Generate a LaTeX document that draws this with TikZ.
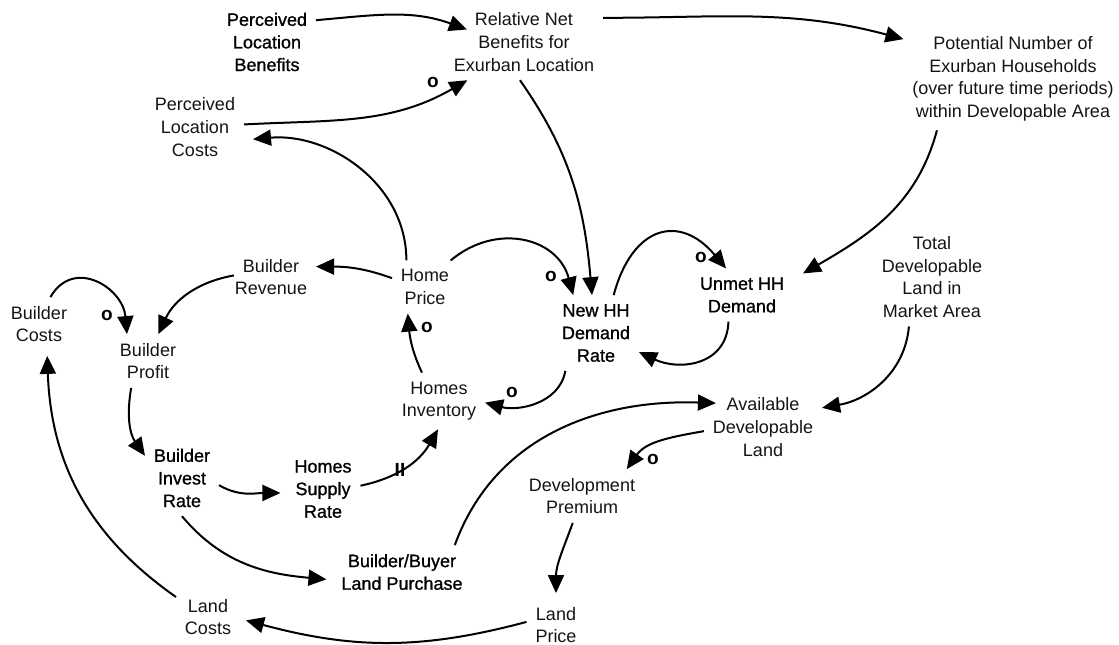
\documentclass[tikz,border=0pt]{standalone}
\usepackage{fontspec}
\setmainfont{Liberation Sans}
\newfontfamily\keyfont{Liberation Sans}[FakeBold=1]
\usetikzlibrary{arrows.meta}

\tikzset{
  var/.style={align=center, inner sep=2pt, outer sep=7pt, text=black!92, font=\fontsize{18}{22.6}\selectfont},
  keyvar/.style={var, text=black, font=\keyfont\fontsize{18}{22.6}\selectfont},
  link/.style={-{Triangle[length=18pt,width=16pt]}, line width=2pt},
  sign/.style={font=\bfseries\fontsize{19}{19}\selectfont, inner sep=0pt}
}

\begin{document}
\begin{tikzpicture}[x=1pt, y=-1pt]
    \useasboundingbox (0,0) rectangle (1119,645);

    % Location demand
    \node[keyvar] (plb) at (267,42) {Perceived\\Location\\Benefits};
    \node[var] (rnb) at (524,42) {Relative Net\\Benefits for\\Exurban Location};
    \node[var] (pot) at (1013,79) {Potential Number of\\Exurban Households\\(over future time periods)\\within Developable Area};
    \node[var] (plc) at (195,127) {Perceived\\Location\\Costs};
    \node[keyvar] (nhh) at (596,333) {New HH\\Demand\\Rate};
    \node[keyvar] (umd) at (742,295) {Unmet HH\\Demand};

    % Builders and homes
    \node[var] (brev) at (271,277) {Builder\\Revenue};
    \node[var] (hp) at (425,287) {Home\\Price};
    \node[var] (bc) at (39,324) {Builder\\Costs};
    \node[var] (bp) at (148,361) {Builder\\Profit};
    \node[var] (hi) at (439,401) {Homes\\Inventory};
    \node[keyvar] (bir) at (182,478) {Builder\\Invest\\Rate};
    \node[keyvar] (hsr) at (323,489) {Homes\\Supply\\Rate};

    % Land
    \node[var] (tdl) at (932,277) {Total\\Developable\\Land in\\Market Area};
    \node[var] (adl) at (763,427) {Available\\Developable\\Land};
    \node[var] (dp) at (582,496) {Development\\Premium};
    \node[keyvar] (blp) at (402,572) {Builder/Buyer\\Land Purchase};
    \node[var] (lc) at (208,617) {Land\\Costs};
    \node[var] (lp) at (556,625) {Land\\Price};

    % Links
    \draw[link] (plb.24) to[out=5, in=160] ([xshift=22pt]rnb.171);
    \draw[link] (plc.3) to[out=3, in=210] (rnb.214);
    \draw[link] (rnb.17) to[out=0, in=165] (pot.160);
    \draw[link] (rnb.264) to[out=-55, in=95] (nhh.96);
    \draw[link] (hp.125) to[out=90, in=5] ([xshift=9pt]plc.-14);
    \draw[link] (hp.165) to[out=160, in=0] (brev.13);
    \draw[link] ([xshift=8pt]brev.178) to[out=190, in=65] (bp.69);
    \draw[link] (bc.67) to[out=60, in=95, looseness=1.4] (bp.128);
    \draw[link] (hp.46) to[out=40, in=105, looseness=1.2] (nhh.121);
    \draw[link] (nhh.65) to[out=75, in=130, looseness=1.6] (umd.121);
    \draw[link] (umd.243) to[out=-92, in=-25, looseness=1.2] (nhh.-24);
    \draw[link] (pot.214) to[out=-105, in=30] ([xshift=10pt,yshift=3pt]umd.20);
    \draw[link] (hi.121) to[out=115, in=-85] (hp.237);
    \draw[link] (nhh.231) to[out=-100, in=-15] (hi.-2);
    \draw[link] (bp.238) to[out=-100, in=125] (bir.149);
    \draw[link] (bir.-11) to[out=-30, in=180] ([xshift=-5pt]hsr.186);
    \draw[link] (hsr.5) to[out=12, in=-120] (hi.268);
    \draw[link] (bir.270) to[out=-50, in=175] ([xshift=-6pt]blp.186);
    \draw[link] (blp.27) to[out=70, in=178] ([xshift=12pt]adl.158);
    \draw[link] (tdl.245) to[out=-95, in=10] (adl.18);
    \draw[link] (adl.184) to[out=190, in=55] (dp.31);
    \draw[link] (dp.251) to[out=-110, in=90] ([yshift=5pt]lp.90);
    \draw[link] (lp.174) to[out=195, in=-15] ([xshift=6pt]lc.-6);
    \draw[link] (lc.148) to[out=145, in=-88] ([yshift=-5pt]bc.287);

    % Polarity and delay marks
    \node[sign] (o1) at (433,82) {o};
    \node[sign] (o2) at (551,276) {o};
    \node[sign] (o3) at (701,257) {o};
    \node[sign] (o4) at (107,315) {o};
    \node[sign] (o5) at (427,327) {o};
    \node[sign] (o6) at (512,392) {o};
    \node[sign] (o7) at (653,459) {o};
    \node[sign] (delay) at (400,470) {II};
\end{tikzpicture}
\end{document}
